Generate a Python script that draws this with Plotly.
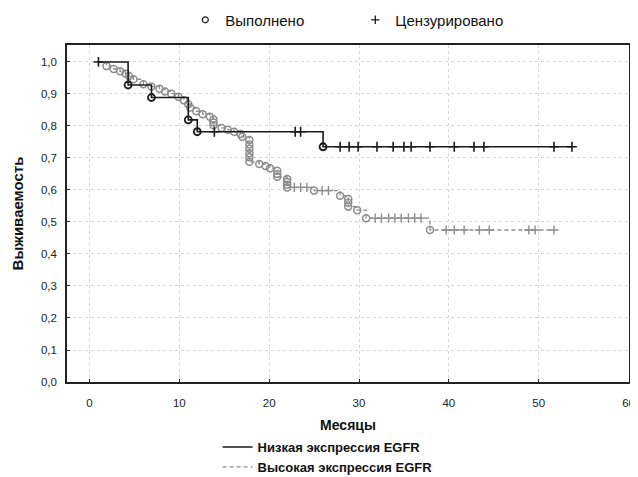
import plotly.graph_objects as go

# ---- data ----
x_ticks = [0, 10, 20, 30, 40, 50, 60]
y_ticks = [0.0, 0.1, 0.2, 0.3, 0.4, 0.5, 0.6, 0.7, 0.8, 0.9, 1.0]
y_tick_text = ["0,0", "0,1", "0,2", "0,3", "0,4", "0,5", "0,6", "0,7", "0,8", "0,9", "1,0"]

low_name = "Низкая экспрессия EGFR"
low_start = 1.0
low_event_t = [4.3, 6.9, 11.0, 12.0, 26.0]
low_event_s = [0.928, 0.889, 0.819, 0.782, 0.735]
low_cens_t = [1.0, 13.9, 22.9, 23.5, 27.9, 28.9, 29.9, 32.0, 33.8, 35.0, 35.8,
              37.9, 40.6, 42.8, 43.9, 51.7, 53.7]

high_name = "Высокая экспрессия EGFR"
high_start = 1.0
high_event_t = [1.9, 2.7, 3.4, 4.0, 4.4, 4.9, 6.0, 6.9, 7.8, 8.4, 9.1, 9.9, 10.5,
                11.0, 11.2, 11.9, 12.6, 13.4, 13.8, 13.8, 13.8, 14.7, 15.4, 16.1,
                16.8, 17.0, 17.8, 17.8, 17.8, 17.8, 17.8, 17.8, 18.9, 19.6, 20.1,
                20.9, 20.9, 20.9, 22.0, 22.0, 22.0, 22.0, 25.0, 27.9, 28.8, 28.8,
                28.8, 29.8, 30.8, 37.9]
high_event_s = [0.987, 0.978, 0.971, 0.964, 0.956, 0.946, 0.930, 0.923, 0.916, 0.908,
                0.901, 0.891, 0.880, 0.868, 0.858, 0.846, 0.837, 0.829, 0.820, 0.811,
                0.802, 0.794, 0.788, 0.782, 0.775, 0.766, 0.756, 0.742, 0.729, 0.715,
                0.702, 0.688, 0.681, 0.675, 0.668, 0.660, 0.650, 0.641, 0.634, 0.625,
                0.616, 0.608, 0.598, 0.582, 0.572, 0.560, 0.548, 0.537, 0.512, 0.475]
high_cens_t = [22.8, 23.5, 24.2, 25.9, 26.6, 31.8, 32.5, 33.3, 34.0, 34.7, 35.5,
               36.2, 36.9, 39.7, 40.6, 41.7, 43.4, 44.5, 48.9, 49.6, 51.7]

legend_done = "Выполнено"
legend_cens = "Цензурировано"


def surv_at(t, ev_t, ev_s):
    s = 1.0
    for et, es in zip(ev_t, ev_s):
        if et <= t:
            s = es
    return s


def step_xy(start, ev_t, ev_s, cens_t):
    xs = [start] + list(ev_t) + [max(cens_t)]
    ys = [1.0] + list(ev_s) + [ev_s[-1]]
    return xs, ys


BLACK = "#1a1a1a"
GREY = "#8c8c8c"
FONT = "Liberation Sans, Arial, sans-serif"

fig = go.Figure()

# high expression (grey, dashed)
hx, hy = step_xy(high_start, high_event_t, high_event_s, high_cens_t)
fig.add_trace(go.Scatter(x=hx, y=hy, mode="lines", line_shape="hv",
                         line=dict(color=GREY, width=1.3, dash="4px,3px"),
                         name=high_name, legend="legend3"))
fig.add_trace(go.Scatter(x=high_event_t, y=high_event_s, mode="markers",
                         marker=dict(symbol="circle-open", size=7, color=GREY,
                                     line=dict(width=1.5, color=GREY)),
                         showlegend=False))
fig.add_trace(go.Scatter(x=high_cens_t,
                         y=[surv_at(t, high_event_t, high_event_s) for t in high_cens_t],
                         mode="markers",
                         marker=dict(symbol="cross-thin-open", size=6.5, color=GREY,
                                     line=dict(width=1.4, color=GREY)),
                         showlegend=False))

# low expression (black, solid)
lx, ly = step_xy(low_start, low_event_t, low_event_s, low_cens_t)
fig.add_trace(go.Scatter(x=lx, y=ly, mode="lines", line_shape="hv",
                         line=dict(color=BLACK, width=1.6),
                         name=low_name, legend="legend2"))
fig.add_trace(go.Scatter(x=low_event_t, y=low_event_s, mode="markers",
                         marker=dict(symbol="circle-open", size=7, color=BLACK,
                                     line=dict(width=1.8, color=BLACK)),
                         showlegend=False))
fig.add_trace(go.Scatter(x=low_cens_t,
                         y=[surv_at(t, low_event_t, low_event_s) for t in low_cens_t],
                         mode="markers",
                         marker=dict(symbol="cross-thin-open", size=7, color=BLACK,
                                     line=dict(width=1.6, color=BLACK)),
                         showlegend=False))

# top legend entries
fig.add_trace(go.Scatter(x=[None], y=[None], mode="markers", name=legend_done,
                         marker=dict(symbol="circle-open", size=6, color=BLACK,
                                     line=dict(width=1.2, color=BLACK)),
                         legend="legend"))
fig.add_trace(go.Scatter(x=[None], y=[None], mode="markers", name=legend_cens,
                         marker=dict(symbol="cross-thin-open", size=6, color=BLACK,
                                     line=dict(width=1.3, color=BLACK)),
                         legend="legend"))

axis_common = dict(showline=True, mirror=True, linecolor="#222", linewidth=1.5,
                   ticks="inside", ticklen=3, tickcolor="#222",
                   showgrid=True, gridcolor="#d6d6d6", griddash="dot", gridwidth=1,
                   zeroline=False,
                   tickfont=dict(family=FONT, size=11.5, color="#222"))

bottom_legend_font = dict(family=FONT, size=13, color="#111", weight="bold")

# page body adds an 8px offset, so the figure is 8px smaller than the window
fig.update_layout(
    width=630, height=469,
    margin=dict(l=59, r=9, t=37, b=95, autoexpand=False),
    paper_bgcolor="white", plot_bgcolor="white",
    font=dict(family=FONT, color="#111"),
    xaxis=dict(range=[-2.5, 60.05], tickvals=x_ticks,
               ticktext=[str(v) for v in x_ticks],
               ticklabelstandoff=9,
               title=dict(text="<b>Месяцы</b>", font=dict(family=FONT, size=14),
                          standoff=13),
               automargin=False,
               **axis_common),
    yaxis=dict(range=[0, 1.053], tickvals=y_ticks, ticktext=y_tick_text,
               ticklabelstandoff=6,
               title=dict(text="<b>Выживаемость</b>", font=dict(family=FONT, size=15),
                          standoff=14),
               automargin=False,
               **axis_common),
    legend=dict(orientation="h", x=0.513, xanchor="center", y=1.074, yanchor="middle",
                font=dict(family=FONT, size=15, color="#111"),
                entrywidth=125, entrywidthmode="pixels",
                bgcolor="rgba(0,0,0,0)"),
    legend2=dict(orientation="v", x=0.268, xanchor="left", y=-0.193, yanchor="middle",
                 font=bottom_legend_font, bgcolor="rgba(0,0,0,0)"),
    legend3=dict(orientation="v", x=0.268, xanchor="left", y=-0.252, yanchor="middle",
                 font=bottom_legend_font, bgcolor="rgba(0,0,0,0)"),
    showlegend=True,
)

fig.write_html("out.html")
